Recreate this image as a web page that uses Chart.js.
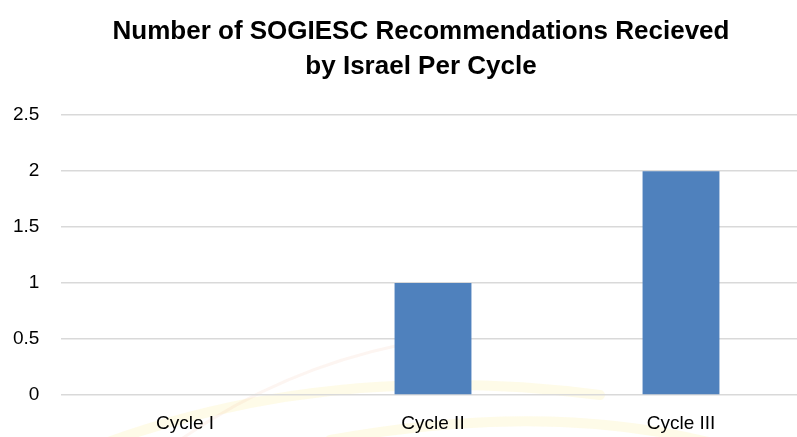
<!DOCTYPE html>
<html>
<head>
<meta charset="utf-8">
<script src="https://cdn.jsdelivr.net/npm/chart.js@4/dist/chart.umd.min.js"></script>
<style>
    html, body { margin: 0; padding: 0; background: #fff; overflow: hidden; }
    #wrap { width: 840px; height: 437px; }
</style>
</head>
<body>
<div id="wrap"><canvas id="chart" width="840" height="437"></canvas></div>
<script>
// Chart data
var categories = ['Cycle I', 'Cycle II', 'Cycle III'];
var recommendations = [0, 1, 2];
var titleLines = ['Number of SOGIESC Recommendations Recieved', 'by Israel Per Cycle'];

var FONT = '"Liberation Sans Narrow", "Arial Narrow", "Liberation Sans", Arial, sans-serif';

// faint swoosh behind the plot, like the slide template
var swooshPlugin = {
    id: 'swoosh',
    beforeDraw: function (chart) {
        var c = chart.ctx;
        c.save();
        c.lineCap = 'round';
        c.strokeStyle = 'rgba(250, 230, 110, 0.16)';
        c.lineWidth = 10;
        c.beginPath();
        c.moveTo(100, 445);
        c.quadraticCurveTo(330, 360, 600, 395);
        c.stroke();
        c.beginPath();
        c.moveTo(330, 440);
        c.quadraticCurveTo(550, 400, 720, 445);
        c.stroke();
        c.strokeStyle = 'rgba(235, 170, 140, 0.12)';
        c.lineWidth = 3;
        c.beginPath();
        c.moveTo(180, 440);
        c.quadraticCurveTo(280, 370, 400, 345);
        c.stroke();
        c.restore();
    }
};

new Chart(document.getElementById('chart'), {
    type: 'bar',
    data: {
        labels: categories,
        datasets: [{
            label: 'Recommendations',
            data: recommendations,
            backgroundColor: '#4F81BD',
            borderWidth: 0,
            categoryPercentage: 1,
            barPercentage: 0.31,
        }],
    },
    options: {
        responsive: false,
        animation: false,
        // left padding shifts the title centre; y labels are mirrored back out into it
        layout: { padding: { left: 37, right: 35, top: 0, bottom: 0 } },
        plugins: {
            legend: { display: false },
            tooltip: { enabled: false },
            title: {
                display: true,
                text: titleLines,
                color: '#000',
                font: { family: FONT, size: 26, weight: 'bold', lineHeight: 1.35 },
                padding: { top: 14, bottom: 31 },
            },
        },
        scales: {
            y: {
                min: 0,
                max: 2.5,
                ticks: {
                    stepSize: 0.5,
                    color: '#000',
                    mirror: true,
                    crossAlign: 'far',
                    padding: -48,
                    font: { family: FONT, size: 19 },
                    callback: function (value) { return String(value); },
                },
                grid: { color: '#d9d9d9', lineWidth: 1.5, drawTicks: false },
                border: { display: false },
                afterFit: function (scale) { scale.width = 24; },
            },
            x: {
                ticks: {
                    color: '#000',
                    padding: 17,
                    font: { family: FONT, size: 19 },
                },
                grid: { display: false, drawTicks: false },
                border: { display: false },
                afterFit: function (scale) { scale.height = 42; },
            },
        },
    },
    plugins: [swooshPlugin],
});
</script>
</body>
</html>
